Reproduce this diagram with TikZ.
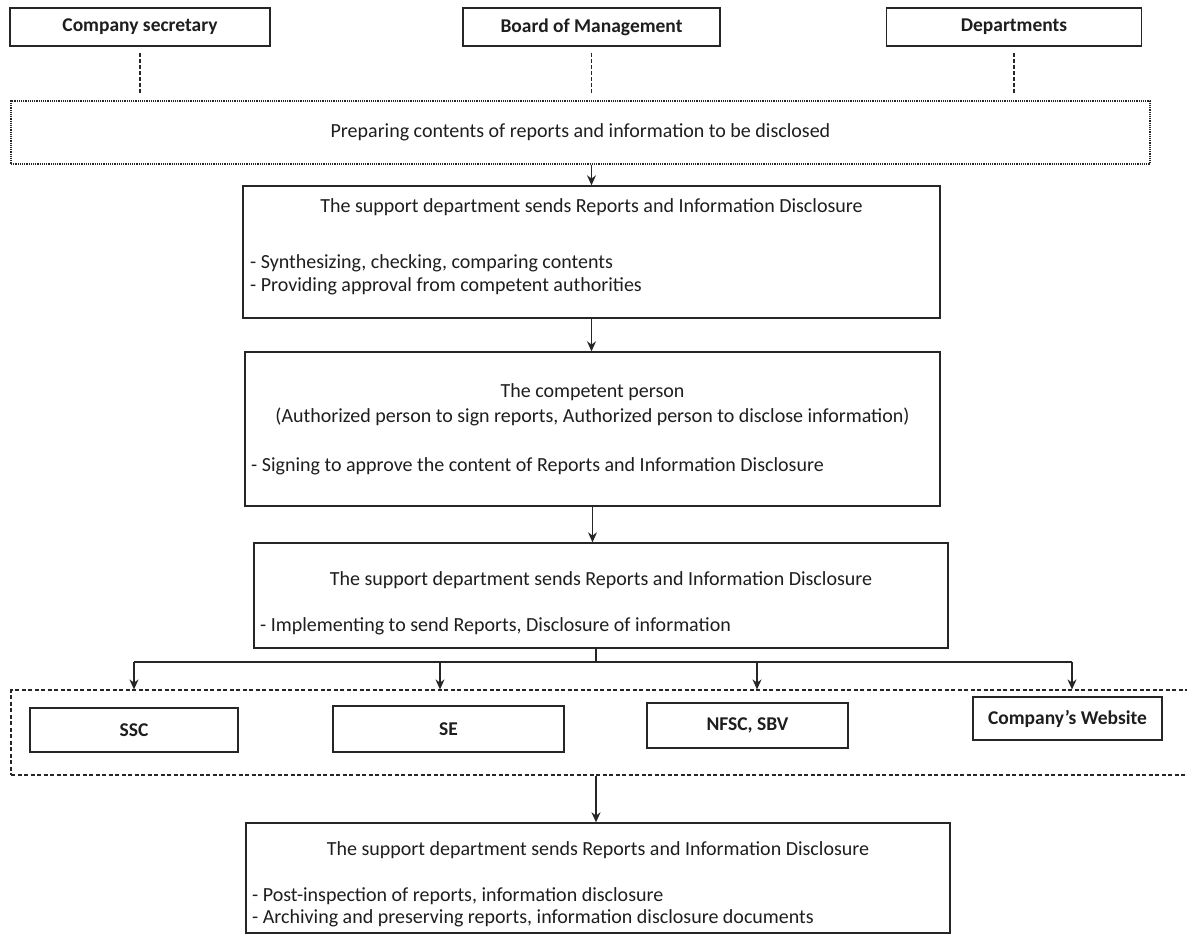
\documentclass[tikz,border=0pt]{standalone}
\usepackage{fontspec}
\setmainfont{Carlito}
\usetikzlibrary{arrows.meta}
\definecolor{ink}{HTML}{1E1E1E}
\definecolor{edge}{HTML}{262626}
\begin{document}
\begin{tikzpicture}[x=1pt,y=-1pt,
  box/.style={draw=edge, line width=1.4pt, inner sep=0pt, text=ink},
  hdr/.style={box, font=\fontsize{19.5}{23}\selectfont\bfseries},
  lbl/.style={inner sep=0pt, text=ink, font=\fontsize{20}{24}\selectfont},
  arr/.style={draw=edge, line width=1.4pt, -{Stealth[length=10pt,width=9pt]}},
  plain/.style={draw=edge, line width=1.4pt},
  dashln/.style={draw=edge, line width=1.6pt, dash pattern=on 4pt off 2pt},
  dotbox/.style={draw=edge, line width=1.2pt, dash pattern=on 1.2pt off 1pt, inner sep=0pt, text=ink, font=\fontsize{20}{24}\selectfont},
  grpbox/.style={draw=edge, line width=1.2pt, dash pattern=on 4pt off 2.5pt, inner sep=0pt}
]
\useasboundingbox[fill=white] (0,0) rectangle (1187,937);

% top row
\node[hdr, minimum width=260pt, minimum height=38pt] (cs) at (140,27) {Company secretary};
\node[hdr, minimum width=257pt, minimum height=38pt] (bm) at (591.5,27) {Board of Management};
\node[hdr, minimum width=255pt, minimum height=38pt] (dp) at (1014,27) {Departments};

% preparing box
\node[dotbox, minimum width=1139pt, minimum height=63pt] (prep) at (580.5,132.5) {Preparing contents of reports and information to be disclosed};

\draw[dashln, shorten <=6pt, shorten >=7pt] (cs.south) -- (cs.south |- prep.north);
\draw[dashln, shorten <=6pt, shorten >=7pt] (bm.south) -- (bm.south |- prep.north);
\draw[dashln, shorten <=6pt, shorten >=7pt] (dp.south) -- (dp.south |- prep.north);

% box 2
\node[box, minimum width=697pt, minimum height=132pt] (b2) at (591.5,252) {};
\node[lbl] (b2t) at (591.5,207) {The support department sends Reports and Information Disclosure};
\node[lbl, anchor=west] (b2a) at (250,263) {- Synthesizing, checking, comparing contents};
\node[lbl, anchor=west] (b2b) at (250,286) {- Providing approval from competent authorities};

\draw[arr] (prep.south -| b2.north) -- (b2.north);

% box 3
\node[box, minimum width=695pt, minimum height=154pt] (b3) at (592.5,429) {};
\node[lbl] (b3t) at (592.5,392) {The competent person};
\node[lbl] (b3p) at (592.5,417) {(Authorized person to sign reports, Authorized person to disclose information)};
\node[lbl, anchor=west] (b3a) at (251,466) {- Signing to approve the content of Reports and Information Disclosure};

\draw[arr] (b2.south) -- (b2.south |- b3.north);

% box 4
\node[box, minimum width=694pt, minimum height=105pt] (b4) at (601,595.5) {};
\node[lbl] (b4t) at (601,580) {The support department sends Reports and Information Disclosure};
\node[lbl, anchor=west] (b4a) at (260,626) {- Implementing to send Reports, Disclosure of information};

\draw[arr] (b3.south) -- (b3.south |- b4.north);

% distribution
\coordinate (j) at (596,662);
\coordinate (h1) at (134,662);
\coordinate (h2) at (440,662);
\coordinate (h3) at (757,662);
\coordinate (h4) at (1072,662);

\node[grpbox, minimum width=1190pt, minimum height=85pt] (grp) at (606,732.5) {};

\node[hdr, minimum width=208pt, minimum height=44pt] (ssc) at (134,730) {SSC};
\node[hdr, minimum width=231pt, minimum height=46pt] (se) at (448.5,729) {SE};
\node[hdr, minimum width=201pt, minimum height=45pt] (nfsc) at (747.5,725.5) {NFSC, SBV};
\node[hdr, minimum width=189pt, minimum height=43pt] (web) at (1067.5,718.5) {Company’s Website};

\draw[plain] (b4.south -| j) -- (j);
\draw[plain] (h1) -- (h4);
\draw[arr] (h1) -- (h1 |- grp.north);
\draw[arr] (h2) -- (h2 |- grp.north);
\draw[arr] (h3) -- (h3 |- grp.north);
\draw[arr] (h4) -- (h4 |- grp.north);

% box 6
\node[box, minimum width=704pt, minimum height=110pt] (b6) at (598,878) {};
\node[lbl] (b6t) at (598,850) {The support department sends Reports and Information Disclosure};
\node[lbl, anchor=west] (b6a) at (252,896) {- Post-inspection of reports, information disclosure};
\node[lbl, anchor=west] (b6b) at (252,918) {- Archiving and preserving reports, information disclosure documents};

\draw[arr] (grp.south -| j) -- (j |- b6.north);
\end{tikzpicture}
\end{document}
